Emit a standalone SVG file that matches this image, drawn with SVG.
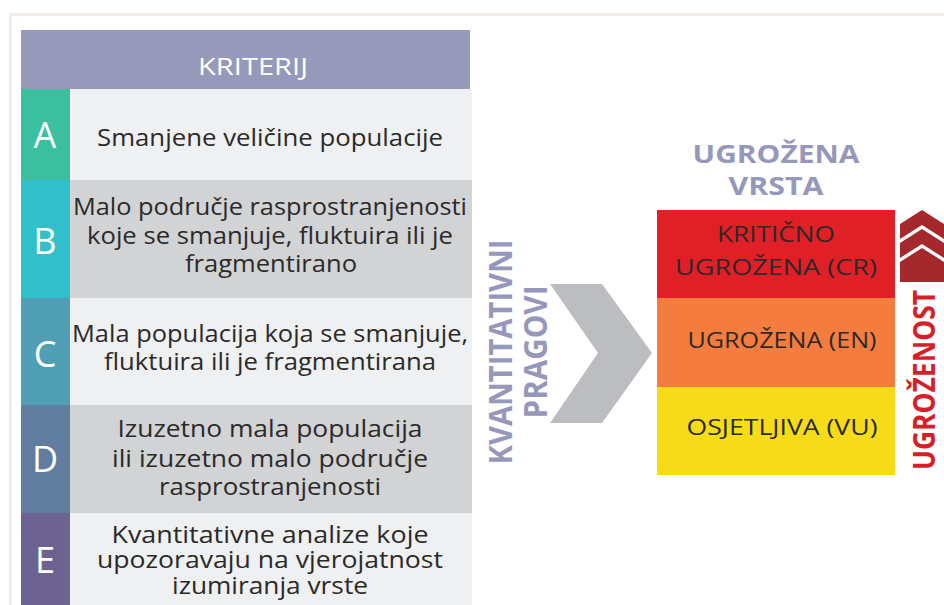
<svg xmlns="http://www.w3.org/2000/svg" width="944" height="605" viewBox="0 0 944 605">
<style>
.t{font-family:"Open Sans","Liberation Sans",sans-serif;font-size:24px;fill:#2b2a29;text-anchor:middle}
.e{font-size:23px}
.l{font-family:"Open Sans","Liberation Sans",sans-serif;font-size:36px;font-weight:400;fill:#ffffff;text-anchor:middle}
.h{font-family:"Open Sans","Liberation Sans",sans-serif;font-size:23px;font-weight:400;fill:#ffffff;text-anchor:middle}
.b{font-family:"Open Sans","Liberation Sans",sans-serif;font-weight:700;text-anchor:middle}
.c{font-family:"Open Sans","Liberation Sans",sans-serif;font-size:22px;fill:#2b2a29;text-anchor:middle}
.lt{fill:#eff0f2}.dk{fill:#d2d3d5}
</style>
<rect x="0" y="0" width="944" height="605" fill="#ffffff"/>
<rect x="10.5" y="14.5" width="960" height="620" fill="none" stroke="#f6ece5" stroke-width="3"/>

<g id="header">
<rect x="21" y="30" width="449" height="59" fill="#9799bb"/>
<text class="h" x="253" y="75" textLength="110" lengthAdjust="spacingAndGlyphs">KRITERIJ</text>
</g>

<g id="rowA">
<rect class="lt" x="70" y="89" width="402" height="91"/>
<rect x="21" y="89" width="49" height="91" fill="#3abf9f"/>
<text class="l" x="45" y="148">A</text>
<text class="t" x="270" y="146" textLength="346" lengthAdjust="spacingAndGlyphs">Smanjene veličine populacije</text>
</g>

<g id="rowB">
<rect class="dk" x="70" y="180" width="402" height="118"/>
<rect x="21" y="180" width="49" height="118" fill="#31c0ca"/>
<text class="l" x="45" y="254">B</text>
<text class="t" x="270" y="215" textLength="394" lengthAdjust="spacingAndGlyphs">Malo područje rasprostranjenosti</text>
<text class="t" x="270" y="244" textLength="366" lengthAdjust="spacingAndGlyphs">koje se smanjuje, fluktuira ili je</text>
<text class="t" x="271" y="272" textLength="172" lengthAdjust="spacingAndGlyphs">fragmentirano</text>
</g>

<g id="rowC">
<rect class="lt" x="70" y="298" width="402" height="107"/>
<rect x="21" y="298" width="49" height="107" fill="#519fb5"/>
<text class="l" x="45" y="367">C</text>
<text class="t" x="270" y="342" textLength="396" lengthAdjust="spacingAndGlyphs">Mala populacija koja se smanjuje,</text>
<text class="t" x="270" y="370" textLength="332" lengthAdjust="spacingAndGlyphs">fluktuira ili je fragmentirana</text>
</g>

<g id="rowD">
<rect class="dk" x="70" y="405" width="402" height="108"/>
<rect x="21" y="405" width="49" height="108" fill="#607d9f"/>
<text class="l" x="45" y="472">D</text>
<text class="t" x="270" y="437" textLength="305" lengthAdjust="spacingAndGlyphs">Izuzetno mala populacija</text>
<text class="t" x="270" y="467" textLength="316" lengthAdjust="spacingAndGlyphs">ili izuzetno malo područje</text>
<text class="t" x="270" y="495" textLength="222" lengthAdjust="spacingAndGlyphs">rasprostranjenosti</text>
</g>

<g id="rowE">
<rect class="lt" x="70" y="513" width="402" height="92"/>
<rect x="21" y="513" width="49" height="92" fill="#6c6391"/>
<text class="l" x="45" y="573">E</text>
<text class="t e" x="270" y="543" textLength="317" lengthAdjust="spacingAndGlyphs">Kvantitativne analize koje</text>
<text class="t e" x="270" y="568" textLength="346" lengthAdjust="spacingAndGlyphs">upozoravaju na vjerojatnost</text>
<text class="t e" x="270" y="594" textLength="196" lengthAdjust="spacingAndGlyphs">izumiranja vrste</text>
</g>

<g id="connectors">
<g id="thresholds">
<polygon points="550,284 602,284 652,353 602,423 550,423 598,353" fill="#bcbdc0"/>
<text class="b" transform="translate(512,352) rotate(-90)" font-size="32" fill="#9698bb" textLength="225" lengthAdjust="spacingAndGlyphs">KVANTITATIVNI</text>
<text class="b" transform="translate(547,352) rotate(-90)" font-size="32" fill="#9698bb" textLength="133" lengthAdjust="spacingAndGlyphs">PRAGOVI</text>
</g>
</g>

<g id="title">
<text class="b" x="776" y="163" font-size="25" fill="#9698bb" textLength="167" lengthAdjust="spacingAndGlyphs">UGROŽENA</text>
<text class="b" x="776" y="195" font-size="25" fill="#9698bb" textLength="95" lengthAdjust="spacingAndGlyphs">VRSTA</text>
</g>

<g id="cr">
<rect x="657" y="210" width="238" height="88" fill="#e01f26"/>
<text class="c" x="776" y="242" textLength="118" lengthAdjust="spacingAndGlyphs">KRITIČNO</text>
<text class="c" x="776" y="275" textLength="202" lengthAdjust="spacingAndGlyphs">UGROŽENA (CR)</text>
</g>

<g id="en">
<rect x="657" y="298" width="238" height="89" fill="#f47c3e"/>
<text class="c" x="782" y="348" textLength="189" lengthAdjust="spacingAndGlyphs">UGROŽENA (EN)</text>
</g>

<g id="vu">
<rect x="657" y="387" width="238" height="88" fill="#f6dc18"/>
<text class="c" x="782" y="435" textLength="191" lengthAdjust="spacingAndGlyphs">OSJETLJIVA (VU)</text>
</g>

<g id="severity">
<polygon points="900,224 922,210 944,224 944,239 922,225 900,239" fill="#a5282d"/>
<polygon points="900,243 922,229 944,243 944,258 922,244 900,258" fill="#a5282d"/>
<polygon points="900,262 922,248 944,262 944,282 900,282" fill="#a5282d"/>
<text class="b" transform="translate(935,380) rotate(-90)" font-size="30" fill="#d71f2a" textLength="180" lengthAdjust="spacingAndGlyphs">UGROŽENOST</text>
</g>
</svg>
